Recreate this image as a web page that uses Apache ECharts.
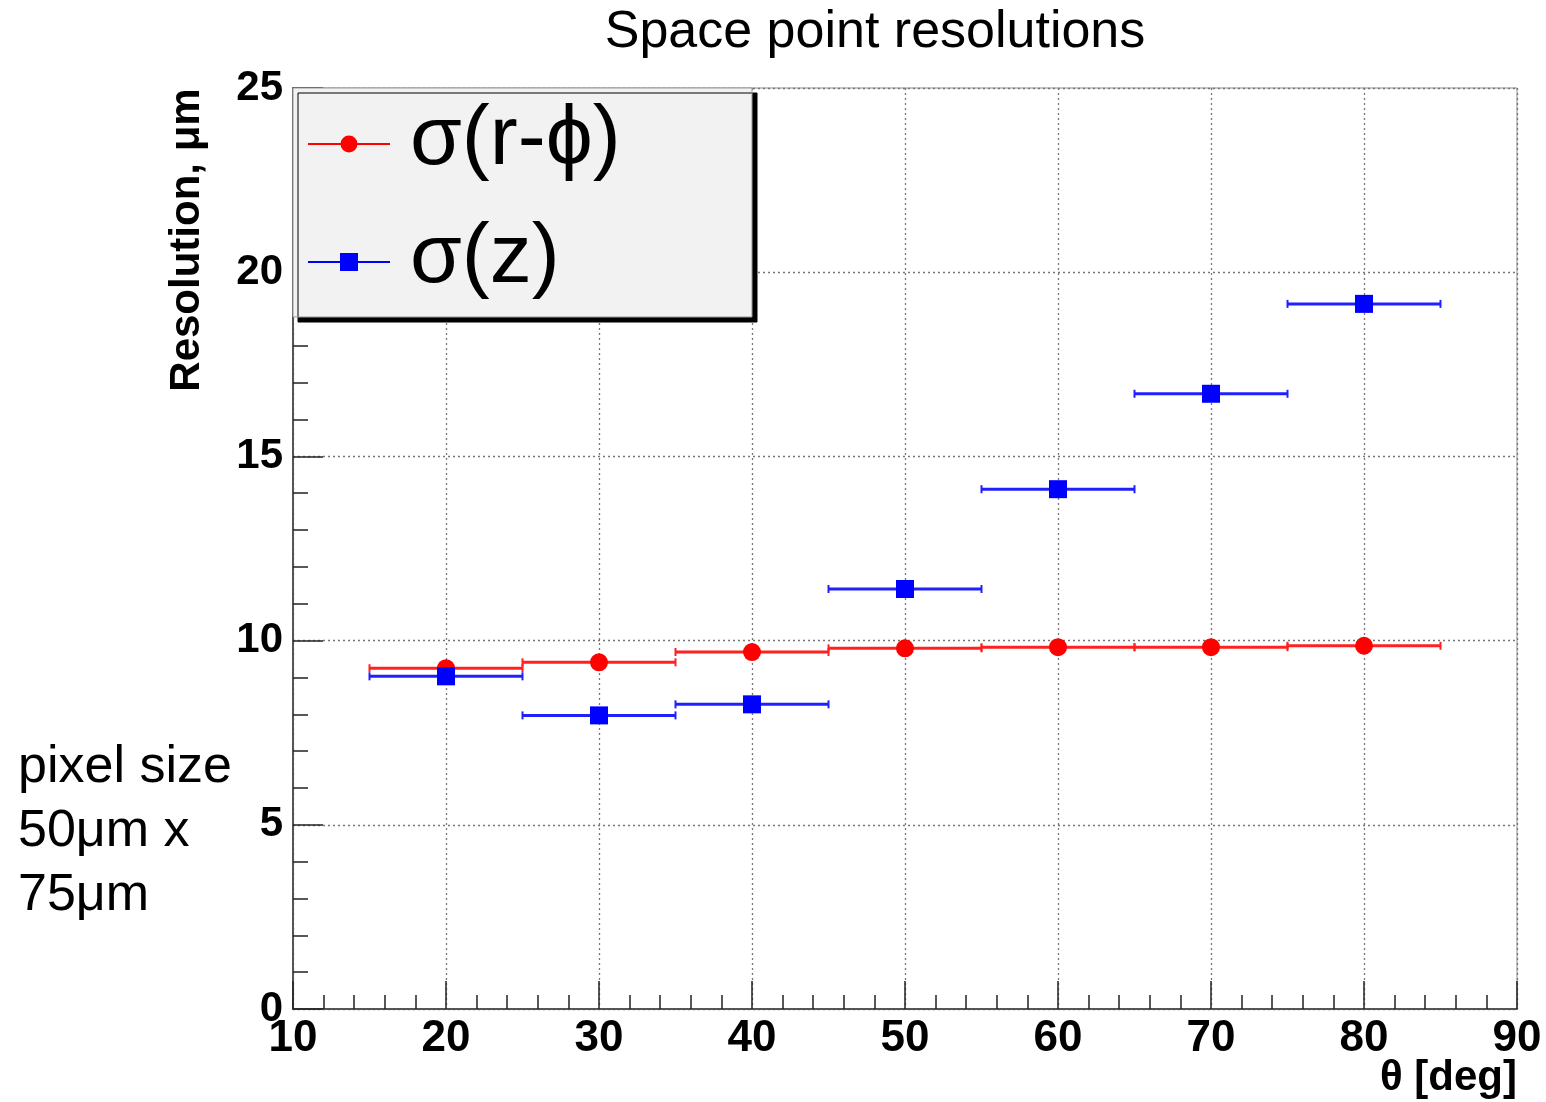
<!DOCTYPE html>
<html>
<head>
<meta charset="utf-8">
<script src="https://cdn.jsdelivr.net/npm/echarts@6/dist/echarts.min.js"></script>
<style>
html,body{margin:0;padding:0;background:#fff;}
#chart{width:1546px;height:1102px;}
</style>
</head>
<body>
<div id="chart"></div>
<script>
// ---- data ----
const theta = [20, 30, 40, 50, 60, 70, 80];            // bin centres, deg
const thetaHalfWidth = [5, 5, 5, 5, 5, 5, 5];           // horizontal error (bin half width)
const sigmaRPhi = [9.25, 9.41, 9.69, 9.79, 9.82, 9.82, 9.86];   // µm
const sigmaZ = [9.03, 7.97, 8.27, 11.40, 14.11, 16.70, 19.14];  // µm
const seriesNames = ['σ(r-ϕ)', 'σ(z)'];
const titleText = 'Space point resolutions';
const xAxisName = 'θ [deg]';
const yAxisName = 'Resolution, μm';
const noteLines = ['pixel size', '50μm x', '75μm'];

const FONT = '"Liberation Sans", Arial, Helvetica, sans-serif';

function errData(vals) {
  return theta.map((t, i) => [t, vals[i], thetaHalfWidth[i]]);
}
function pointData(vals) {
  return theta.map((t, i) => [t, vals[i]]);
}
function errRenderer(color) {
  return function (params, api) {
    const x = api.value(0), y = api.value(1), e = api.value(2);
    const p1 = api.coord([x - e, y]);
    const p2 = api.coord([x + e, y]);
    const cap = 4;
    const st = { stroke: color, lineWidth: 3 };
    return {
      type: 'group',
      children: [
        { type: 'line', shape: { x1: p1[0], y1: p1[1], x2: p2[0], y2: p2[1] }, style: st },
        { type: 'line', shape: { x1: p1[0], y1: p1[1] - cap, x2: p1[0], y2: p1[1] + cap }, style: { stroke: color, lineWidth: 2 } },
        { type: 'line', shape: { x1: p2[0], y1: p2[1] - cap, x2: p2[0], y2: p2[1] + cap }, style: { stroke: color, lineWidth: 2 } }
      ]
    };
  };
}

const chart = echarts.init(document.getElementById('chart'), null, { renderer: 'canvas' });

const option = {
  backgroundColor: '#ffffff',
  animation: false,
  grid: {
    left: 293, right: 29, top: 88, bottom: 93,
    show: true, borderColor: '#8a8a8a', borderWidth: 1, backgroundColor: 'transparent'
  },
  xAxis: {
    type: 'value', min: 10, max: 90, interval: 10,
    axisLine: { show: true, onZero: false, lineStyle: { color: '#555', width: 2 } },
    axisTick: { show: true, inside: true, length: 28, lineStyle: { color: '#222', width: 1.5 } },
    minorTick: { show: true, splitNumber: 5, length: 14, lineStyle: { color: '#222', width: 1.5 } },
    axisLabel: { fontFamily: FONT, fontWeight: 'bold', fontSize: 44, color: '#000', margin: 8 },
    splitLine: { show: true, lineStyle: { type: [2, 3], color: '#777', width: 1.3 } }
  },
  yAxis: {
    type: 'value', min: 0, max: 25, interval: 5,
    axisLine: { show: true, onZero: false, lineStyle: { color: '#555', width: 2 } },
    axisTick: { show: true, inside: true, length: 30, lineStyle: { color: '#222', width: 1.5 } },
    minorTick: { show: true, splitNumber: 5, length: 15, lineStyle: { color: '#222', width: 1.5 } },
    axisLabel: { fontFamily: FONT, fontWeight: 'bold', fontSize: 42, color: '#000', margin: 10 },
    splitLine: { show: true, lineStyle: { type: [2, 3], color: '#777', width: 1.3 } }
  },
  series: [
    {
      name: seriesNames[0] + ' err', type: 'custom', renderItem: errRenderer('#ff2020'),
      data: errData(sigmaRPhi), encode: { x: 0, y: 1 }, z: 2
    },
    {
      name: seriesNames[0], type: 'scatter', data: pointData(sigmaRPhi),
      symbol: 'circle', symbolSize: 18, itemStyle: { color: '#ff0000', opacity: 1 }, z: 3
    },
    {
      name: seriesNames[1] + ' err', type: 'custom', renderItem: errRenderer('#2020ff'),
      data: errData(sigmaZ), encode: { x: 0, y: 1 }, z: 4
    },
    {
      name: seriesNames[1], type: 'scatter', data: pointData(sigmaZ),
      symbol: 'rect', symbolSize: 18, itemStyle: { color: '#0000ff', opacity: 1 }, z: 5
    }
  ],
  graphic: [
    // title
    { type: 'text', x: 875, y: 33, z: 10,
      style: { text: titleText, font: '52px ' + FONT, fill: '#000', textAlign: 'center', textVerticalAlign: 'middle' } },
    // y axis name (rotated)
    { type: 'text', x: 187, y: 240, rotation: Math.PI / 2, z: 10,
      style: { text: yAxisName, font: 'bold 42px ' + FONT, fill: '#000', textAlign: 'center', textVerticalAlign: 'middle' } },
    // x axis name
    { type: 'text', x: 1517, y: 1078, z: 10,
      style: { text: xAxisName, font: 'bold 42px ' + FONT, fill: '#000', textAlign: 'right', textVerticalAlign: 'middle' } },
    // note at left
    { type: 'text', x: 18, y: 736, z: 10,
      style: { text: noteLines.join('\n'), font: '52px ' + FONT, lineHeight: 64, fill: '#000', textAlign: 'left', textVerticalAlign: 'top' } },
    // legend box
    { type: 'rect', z: 20, shape: { x: 293, y: 88, width: 459, height: 229 },
      style: { fill: '#f2f2f2', stroke: '#999', lineWidth: 1, shadowColor: '#000', shadowOffsetX: 5, shadowOffsetY: 5, shadowBlur: 0 } },
    { type: 'line', z: 21, shape: { x1: 308, y1: 144, x2: 390, y2: 144 }, style: { stroke: '#ff0000', lineWidth: 2 } },
    { type: 'circle', z: 22, shape: { cx: 349, cy: 144, r: 8.5 }, style: { fill: '#ff0000' } },
    { type: 'text', z: 22, x: 410, y: 141,
      style: { text: seriesNames[0], font: '84px ' + FONT, fill: '#000', textAlign: 'left', textVerticalAlign: 'middle' } },
    { type: 'line', z: 21, shape: { x1: 308, y1: 262, x2: 390, y2: 262 }, style: { stroke: '#0000ff', lineWidth: 2 } },
    { type: 'rect', z: 22, shape: { x: 340, y: 253, width: 18, height: 18 }, style: { fill: '#0000ff' } },
    { type: 'text', z: 22, x: 410, y: 259,
      style: { text: seriesNames[1], font: '84px ' + FONT, fill: '#000', textAlign: 'left', textVerticalAlign: 'middle' } }
  ]
};
chart.setOption(option);
</script>
</body>
</html>
